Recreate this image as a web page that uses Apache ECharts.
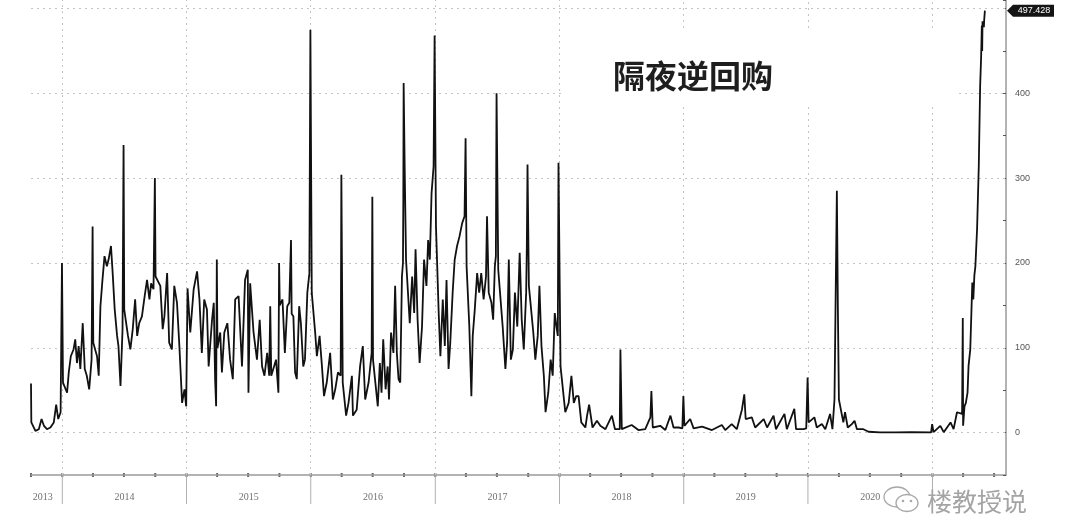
<!DOCTYPE html>
<html><head><meta charset="utf-8">
<script src="https://cdn.jsdelivr.net/npm/echarts@6/dist/echarts.min.js"></script>
<style>html,body{margin:0;padding:0;background:#fff}#c{width:1080px;height:518px}</style>
</head><body><div id="c"></div>
<script>
const dates = [
'2013-10-01','2013-10-02','2013-10-14','2013-10-24','2013-11-01','2013-11-08','2013-11-17','2013-11-27','2013-12-07','2013-12-14','2013-12-20','2013-12-27','2013-12-31',
'2014-01-03','2014-01-15','2014-01-20','2014-01-26','2014-02-03','2014-02-08','2014-02-13','2014-02-18','2014-02-23','2014-03-02','2014-03-08','2014-03-14','2014-03-21','2014-03-28','2014-03-31',
'2014-04-02','2014-04-13','2014-04-18','2014-04-23','2014-04-29','2014-05-05','2014-05-12','2014-05-17','2014-05-24','2014-05-29','2014-06-04','2014-06-11','2014-06-15','2014-06-21','2014-06-27','2014-06-30',
'2014-07-02','2014-07-13','2014-07-20','2014-07-27','2014-08-03','2014-08-09','2014-08-15','2014-08-23','2014-08-31','2014-09-07','2014-09-14','2014-09-19','2014-09-26','2014-09-30',
'2014-10-02','2014-10-16','2014-10-23','2014-10-28','2014-11-05','2014-11-11','2014-11-19','2014-11-26','2014-12-04','2014-12-11','2014-12-19','2014-12-26','2014-12-31',
'2015-01-04','2015-01-12','2015-01-22','2015-02-01','2015-02-08','2015-02-15','2015-02-22','2015-03-02','2015-03-07','2015-03-17','2015-03-22','2015-03-26','2015-03-29','2015-03-31',
'2015-04-02','2015-04-10','2015-04-15','2015-04-22','2015-05-01','2015-05-09','2015-05-17','2015-05-24','2015-06-03','2015-06-13','2015-06-22','2015-06-30',
'2015-07-02','2015-07-07','2015-07-17','2015-07-27','2015-08-04','2015-08-11','2015-08-18','2015-08-26','2015-09-01','2015-09-04','2015-09-07','2015-09-21','2015-09-28','2015-09-30',
'2015-10-02','2015-10-10','2015-10-17','2015-10-24','2015-10-30','2015-11-04','2015-11-06','2015-11-11','2015-11-16','2015-11-21','2015-11-28','2015-12-03','2015-12-10','2015-12-15','2015-12-22','2015-12-28','2015-12-31',
'2016-01-04','2016-01-14','2016-01-19','2016-01-27','2016-02-03','2016-02-09','2016-02-17','2016-02-27','2016-03-06','2016-03-13','2016-03-21','2016-03-29','2016-03-31',
'2016-04-04','2016-04-14','2016-04-21','2016-05-01','2016-05-04','2016-05-15','2016-05-25','2016-06-02','2016-06-09','2016-06-19','2016-06-28','2016-06-30',
'2016-07-02','2016-07-16','2016-07-22','2016-07-27','2016-08-01','2016-08-08','2016-08-14','2016-08-18','2016-08-24','2016-08-31','2016-09-05','2016-09-10','2016-09-15','2016-09-20','2016-09-25','2016-09-28','2016-09-29','2016-09-30',
'2016-10-03','2016-10-07','2016-10-18','2016-10-25','2016-10-31','2016-11-04','2016-11-10','2016-11-16','2016-11-23','2016-11-29','2016-12-06','2016-12-11','2016-12-16','2016-12-21','2016-12-27','2016-12-30',
'2017-01-03','2017-01-11','2017-01-16','2017-01-23','2017-01-29','2017-02-03','2017-02-09','2017-02-14','2017-02-21','2017-02-27','2017-03-06','2017-03-13','2017-03-21','2017-03-28','2017-03-31',
'2017-04-03','2017-04-11','2017-04-17','2017-04-21','2017-04-27','2017-05-04','2017-05-10','2017-05-16','2017-05-23','2017-05-30','2017-06-02','2017-06-07','2017-06-15','2017-06-20','2017-06-25','2017-06-28','2017-06-30',
'2017-07-05','2017-07-18','2017-07-26','2017-07-31','2017-08-05','2017-08-11','2017-08-17','2017-08-23','2017-08-30','2017-09-06','2017-09-12','2017-09-18','2017-09-25','2017-09-27','2017-09-29',
'2017-10-03','2017-10-16','2017-10-22','2017-10-29','2017-11-03','2017-11-09','2017-11-16','2017-11-21','2017-11-29','2017-12-06','2017-12-12','2017-12-18','2017-12-23','2017-12-27','2017-12-29',
'2018-01-04','2018-01-18','2018-01-28','2018-02-05','2018-02-12','2018-02-19','2018-02-26','2018-03-06','2018-03-18','2018-03-23','2018-03-29',
'2018-04-08','2018-04-21','2018-05-01','2018-05-16','2018-06-04','2018-06-13','2018-06-27','2018-06-29',
'2018-07-03','2018-08-01','2018-08-21','2018-09-10','2018-09-25','2018-09-28',
'2018-10-02','2018-10-24','2018-11-08','2018-11-23','2018-12-02','2018-12-17','2018-12-28','2018-12-31',
'2019-01-03','2019-01-20','2019-01-30','2019-02-24','2019-03-25','2019-04-23','2019-05-03','2019-05-22','2019-06-06','2019-06-21','2019-06-28',
'2019-07-02','2019-07-20','2019-07-30','2019-08-24','2019-09-03','2019-09-22','2019-09-29','2019-10-24','2019-10-31','2019-11-22','2019-11-27','2019-12-19','2019-12-27','2019-12-31',
'2020-01-03','2020-01-20','2020-01-27','2020-02-11','2020-02-21','2020-03-06','2020-03-13','2020-03-19','2020-03-26','2020-03-29','2020-04-01','2020-04-14','2020-04-19','2020-04-27','2020-05-09','2020-05-17','2020-05-24','2020-06-12','2020-06-27',
'2020-07-31','2020-09-15','2020-10-30','2020-12-28','2020-12-31',
'2021-01-04','2021-01-24','2021-02-03','2021-02-23','2021-03-04','2021-03-14','2021-03-29','2021-03-31','2021-04-01','2021-04-05','2021-04-09','2021-04-14','2021-04-17','2021-04-22','2021-04-28',
'2021-05-01','2021-05-04','2021-05-07','2021-05-12','2021-05-17','2021-05-21','2021-05-24','2021-05-26','2021-05-27','2021-05-28','2021-06-01','2021-06-02','2021-06-04'
];
const values = [
58,12,2,4,16,8,4,6,12,33,16,24,200,
59,47,71,90,98,110,82,102,75,129,75,67,51,86,243,
106,90,67,149,180,208,196,204,220,188,145,114,102,55,122,339,
145,114,98,122,157,114,129,137,161,180,157,176,169,300,
184,173,122,137,188,106,98,173,153,102,35,51,31,
170,118,169,190,157,94,157,145,78,133,153,63,31,204,
100,118,71,118,129,86,63,157,161,78,180,192,
47,176,118,86,133,78,67,94,67,149,67,86,47,200,
150,157,94,149,153,227,140,137,71,63,149,129,78,86,165,188,475,
165,118,90,114,78,43,59,94,39,51,71,67,304,
59,20,35,67,20,27,78,102,39,59,94,278,
86,31,82,47,110,51,78,39,118,94,173,94,63,59,184,200,271,412,
314,204,129,184,141,216,133,82,125,204,173,227,204,282,314,468,
243,141,90,157,102,180,75,106,165,204,220,231,247,255,347,
196,125,43,114,145,188,165,188,157,184,255,165,153,133,196,208,400,
192,125,75,106,204,86,98,165,125,212,133,98,165,220,316,
173,118,86,114,173,102,67,24,47,86,67,141,125,114,318,
78,24,35,67,35,43,43,12,6,20,33,
6,14,8,4,20,4,4,98,
4,9,3,4,18,49,
6,8,3,20,6,6,5,43,
8,16,5,7,3,9,3,10,4,27,45,
16,18,6,16,6,20,4,22,4,28,4,4,5,65,
12,18,6,10,4,22,4,39,285,145,39,12,24,6,10,14,4,4,1,
0.3,0.2,0.5,0.2,10,
0.5,8,0.5,12,4,24,22,135,8,31,35,47,79,98,177,
157,185,196,240,314,408,444,480,450,485,478,487,497.428
];
const yearLabels = ['2013','2014','2015','2016','2017','2018','2019','2020'];
const yearBoundaries = ['2014-01-01','2015-01-01','2016-01-01','2017-01-01','2018-01-01','2019-01-01','2020-01-01','2021-01-01'];
const yTickValues = [0,100,200,300,400,500];
const xMin = '2013-10-01';
const xMax = '2021-08-05';
const yMin = -50, yMax = 510;
const titleText = '隔夜逆回购';
const watermarkText = '楼教授说';
// area kept clear behind the title (in data units)
const titleBoxX = ['2018-01-12','2021-03-20'];
const titleBoxY = [385, 477];

function ts(s){const p=s.split('-').map(Number);return new Date(p[0],p[1]-1,p[2]).getTime();}

const seriesData = dates.map((d,i)=>[ts(d), values[i]]);
const gridStyle = {color:'#c4c4c4', type:[2,4], width:1};
const minTs = ts(xMin), maxTs = ts(xMax);
const bxa = ts(titleBoxX[0]), bxb = ts(titleBoxX[1]);

// build grid line segments, skipping the title box
const gridSegs = [];
yTickValues.forEach(v=>{
  if (v>=titleBoxY[0] && v<=titleBoxY[1]) {
    gridSegs.push([{coord:[minTs,v]},{coord:[bxa,v]}]);
    gridSegs.push([{coord:[bxb,v]},{coord:[maxTs,v]}]);
  } else gridSegs.push([{coord:[minTs,v]},{coord:[maxTs,v]}]);
});
yearBoundaries.forEach(d=>{
  const t = ts(d);
  if (t>=bxa && t<=bxb) {
    gridSegs.push([{coord:[t,yMin]},{coord:[t,titleBoxY[0]]}]);
    gridSegs.push([{coord:[t,titleBoxY[1]]},{coord:[t,yMax]}]);
  } else gridSegs.push([{coord:[t,yMin]},{coord:[t,yMax]}]);
});

const chart = echarts.init(document.getElementById('c'), null, {renderer:'canvas'});
chart.setOption({
  animation:false,
  backgroundColor:'#ffffff',
  title:{text:titleText, left:608, top:55, z:10,
    textStyle:{fontSize:32, fontWeight:'bold', color:'#1e1e1e', fontFamily:'Noto Sans CJK SC'}},
  grid:{left:31, right:74, top:0, bottom:43},
  xAxis:{type:'time', min:minTs, max:maxTs,
    axisLine:{show:true, onZero:false, lineStyle:{color:'#9a9a9a', width:1.5}},
    axisTick:{show:false}, axisLabel:{show:false}, splitLine:{show:false}},
  yAxis:{type:'value', position:'right', min:yMin, max:yMax, interval:50,
    axisLine:{show:true, lineStyle:{color:'#9a9a9a', width:1.5}},
    axisTick:{show:true, inside:true, length:3, lineStyle:{color:'#555'}},
    axisLabel:{color:'#555', fontSize:9, margin:9, fontFamily:'Liberation Sans',
      formatter:v=> (v>=0 && v<=400 && v%100===0) ? String(v) : ''},
    splitLine:{show:false}},
  series:[
    {type:'line', z:1, data:[seriesData[0]], showSymbol:false, lineStyle:{opacity:0}, silent:true,
     markLine:{z:1, silent:true, symbol:['none','none'], label:{show:false}, lineStyle:gridStyle,
       emphasis:{disabled:true}, data:gridSegs}},
    {type:'line', z:3, data:seriesData, showSymbol:false, symbol:'none',
     lineStyle:{color:'#111', width:1.8}}
  ]
});

// decorations positioned through the axes
const axisY = chart.convertToPixel({yAxisIndex:0}, yMin);
const xs = v => chart.convertToPixel({xAxisIndex:0}, v);
const g = [];
// quarter ticks
for (let y=2013; y<=2021; y++) {
  for (let m=0; m<12; m+=3) {
    const t = new Date(y,m,1).getTime();
    if (t<minTs || t>maxTs) continue;
    const px = xs(t);
    g.push({type:'line', shape:{x1:px, y1:axisY-2, x2:px, y2:axisY+2}, style:{stroke:'#666', lineWidth:2}, silent:true});
  }
}
// year separators
yearBoundaries.forEach(d=>{
  const px = xs(ts(d));
  g.push({type:'line', shape:{x1:px, y1:axisY, x2:px, y2:axisY+29}, style:{stroke:'#b0b0b0', lineWidth:1}, silent:true});
});
// year labels
yearLabels.forEach(lbl=>{
  const y = Number(lbl);
  const a = Math.max(new Date(y,0,1).getTime(), minTs);
  const b = Math.min(new Date(y+1,0,1).getTime(), maxTs);
  const cx = (xs(a)+xs(b))/2 - (a===minTs ? 4 : 0);
  g.push({type:'text', x:cx, y:axisY+22, style:{text:lbl, fill:'#707070', font:'10px "Liberation Serif"', align:'center', verticalAlign:'middle'}, silent:true});
});
// last value box
const lastVal = values[values.length-1];
const ly = chart.convertToPixel({yAxisIndex:0}, lastVal);
const ax = xs(maxTs);
g.push({type:'polygon', z:6, shape:{points:[[ax+1,ly],[ax+7,ly-6],[ax+48,ly-6],[ax+48,ly+6],[ax+7,ly+6]]}, style:{fill:'#141414'}, silent:true});
g.push({type:'text', z:7, x:ax+28, y:ly, style:{text:String(lastVal), fill:'#fff', font:'9px "Liberation Sans"', align:'center', verticalAlign:'middle'}, silent:true});
// watermark
g.push({type:'ellipse', z:6, shape:{cx:897, cy:497, rx:13, ry:10}, style:{fill:'#fff', stroke:'#a8a8a8', lineWidth:1.3}, silent:true});
g.push({type:'ellipse', z:7, shape:{cx:907, cy:503, rx:11, ry:8.5}, style:{fill:'#fff', stroke:'#a8a8a8', lineWidth:1.3}, silent:true});
g.push({type:'circle', z:8, shape:{cx:903, cy:501, r:1.3}, style:{fill:'#a8a8a8'}, silent:true});
g.push({type:'circle', z:8, shape:{cx:911, cy:501, r:1.3}, style:{fill:'#a8a8a8'}, silent:true});
g.push({type:'text', z:6, x:927, y:501, style:{text:watermarkText, fill:'#a4a4a4', font:'25px "Noto Sans CJK SC"', align:'left', verticalAlign:'middle'}, silent:true});
chart.setOption({graphic:g});
</script>
</body></html>
